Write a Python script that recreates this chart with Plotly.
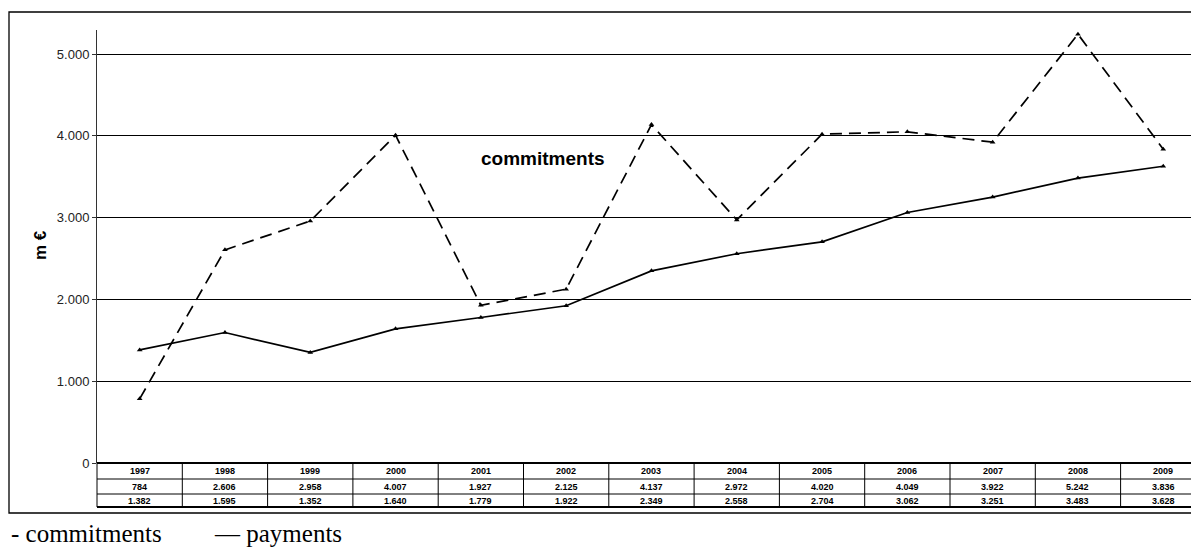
import plotly.graph_objects as go

years = ["1997", "1998", "1999", "2000", "2001", "2002", "2003", "2004", "2005", "2006", "2007", "2008", "2009"]
commitments = [784, 2606, 2958, 4007, 1927, 2125, 4137, 2972, 4020, 4049, 3922, 5242, 3836]
payments = [1382, 1595, 1352, 1640, 1779, 1922, 2349, 2558, 2704, 3062, 3251, 3483, 3628]


def fmt(v):
    return f"{v:,}".replace(",", ".")


xs = list(range(len(years)))

fig = go.Figure()
fig.add_trace(go.Scatter(
    x=xs, y=commitments, mode="lines+markers", name="commitments",
    line=dict(color="black", width=1.7, dash="12px,7px"),
    marker=dict(symbol="triangle-up", size=5, color="black"),
))
fig.add_trace(go.Scatter(
    x=xs, y=payments, mode="lines+markers", name="payments",
    line=dict(color="black", width=1.7),
    marker=dict(symbol="triangle-up", size=5, color="black"),
))

OFF = 8  # page body margin
FIG_W, FIG_H = 1199 - OFF, 549 - OFF

# plot-area geometry in reference pixels
top_px, bot_px = 30, 463
H = bot_px - top_px
left_px, right_px = 97, 1199
W = right_px - left_px


def py(p):
    return (bot_px - p) / H


def px(p):
    return (p - left_px) / W


shapes = []
for ypix, w in [(463, 2), (479, 1), (494, 1), (507, 2)]:
    shapes.append(dict(type="line", xref="paper", yref="paper", x0=0, x1=1.02,
                       y0=py(ypix), y1=py(ypix), line=dict(color="black", width=w)))
for i in range(len(years)):
    shapes.append(dict(type="line", xref="x", yref="paper", x0=i + 0.5, x1=i + 0.5,
                       y0=py(463), y1=py(507), line=dict(color="black", width=1)))
shapes.append(dict(type="line", xref="paper", yref="paper", x0=0, x1=0,
                   y0=py(463), y1=py(507), line=dict(color="black", width=1)))
shapes.append(dict(type="rect", xref="paper", yref="paper", x0=px(9), x1=px(1230),
                   y0=py(513), y1=py(12), line=dict(color="black", width=1.3),
                   fillcolor="rgba(0,0,0,0)"))

annotations = []
for i, yr in enumerate(years):
    for txt, ypix in [(yr, 471), (fmt(commitments[i]), 487), (fmt(payments[i]), 501)]:
        annotations.append(dict(x=i, y=py(ypix), xref="x", yref="paper", text=f"<b>{txt}</b>",
                                showarrow=False, font=dict(family="Arial, Liberation Sans", size=9,
                                                           color="black"),
                                xanchor="center", yanchor="middle"))

annotations.append(dict(x=px(543), y=py(158), xref="paper", yref="paper",
                        text="<b>commitments</b>", showarrow=False,
                        font=dict(family="Arial, Liberation Sans", size=19, color="black"),
                        xanchor="center", yanchor="middle"))
annotations.append(dict(x=px(9), y=py(533), xref="paper", yref="paper",
                        text="- commitments", showarrow=False,
                        font=dict(family="Liberation Serif, Times New Roman", size=25, color="black"),
                        xanchor="left", yanchor="middle"))
annotations.append(dict(x=px(212), y=py(533), xref="paper", yref="paper",
                        text="— payments", showarrow=False,
                        font=dict(family="Liberation Serif, Times New Roman", size=25, color="black"),
                        xanchor="left", yanchor="middle"))
annotations.append(dict(x=px(40), y=py(245), xref="paper", yref="paper",
                        text="<b>m €</b>", showarrow=False, textangle=-90,
                        font=dict(family="Arial, Liberation Sans", size=17, color="black"),
                        xanchor="center", yanchor="middle"))

fig.update_layout(
    width=FIG_W, height=FIG_H,
    margin=dict(l=left_px - OFF, r=1199 - right_px, t=top_px - OFF, b=549 - bot_px),
    paper_bgcolor="white", plot_bgcolor="white",
    showlegend=False,
    separators=",.",
    shapes=shapes,
    annotations=annotations,
    xaxis=dict(range=[-0.5, (right_px - left_px) / 85.3 - 0.5], showgrid=False,
               showticklabels=False, ticks="", zeroline=False, showline=False, fixedrange=True),
    yaxis=dict(range=[0, (bot_px - top_px) / 81.8 * 1000], tickvals=[0, 1000, 2000, 3000, 4000, 5000],
               tickformat=",d", showgrid=True, gridcolor="black", gridwidth=1,
               zeroline=False, showline=True, linecolor="#333", linewidth=1,
               ticks="outside", ticklen=4, tickcolor="#333",
               tickfont=dict(family="Arial, Liberation Sans", size=13, color="#222"),
               fixedrange=True),
)

fig.write_html("out.html")
